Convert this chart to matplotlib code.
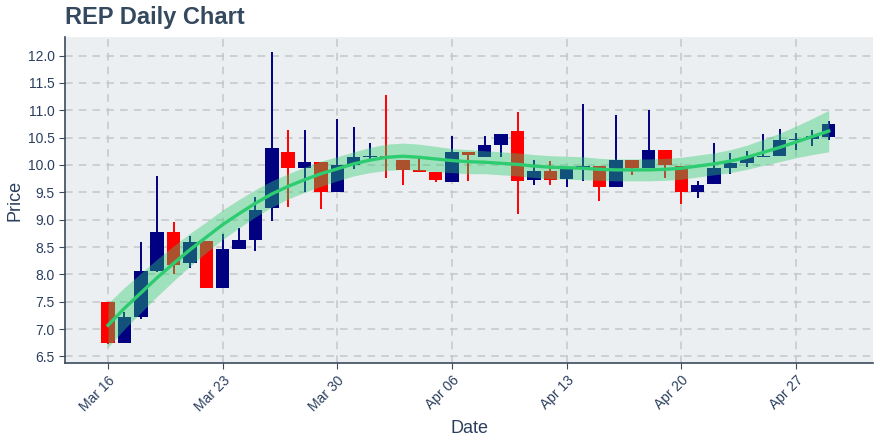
import numpy as np
import pandas as pd
import matplotlib
matplotlib.use("Agg")
import matplotlib.pyplot as plt
import matplotlib.dates as mdates

plt.rcParams["font.family"] = ["Liberation Sans", "DejaVu Sans"]

# ── Data ──────────────────────────────────────────────────────────────────────
dates = pd.date_range("2020-03-16", "2020-04-29", freq="D")

opens = [7.50, 6.74, 7.22, 8.07, 8.78, 8.20, 8.61, 7.76, 8.47, 8.63,
         9.22, 10.24, 9.95, 10.06, 9.51, 10.00, 10.14, 10.17, 10.09, 9.90,
         9.87, 9.68, 10.24, 10.15, 10.37, 10.62, 9.73, 9.89, 9.75, 9.96,
         9.98, 9.59, 10.09, 9.95, 10.28, 9.98, 9.50, 9.65, 9.95, 10.04,
         10.15, 10.17, 10.46, 10.48, 10.52]
closes = [6.74, 7.22, 8.07, 8.78, 8.17, 8.59, 7.76, 8.47, 8.63, 9.18,
          10.31, 9.95, 10.06, 9.51, 10.00, 10.14, 10.17, 10.12, 9.90, 9.87,
          9.72, 10.24, 10.19, 10.37, 10.57, 9.70, 9.89, 9.73, 9.93, 9.98,
          9.59, 10.09, 9.95, 10.28, 10.00, 9.50, 9.64, 9.94, 10.04, 10.15,
          10.17, 10.46, 10.48, 10.53, 10.75]
highs = [7.50, 7.32, 8.59, 9.80, 8.95, 8.70, 8.61, 8.74, 8.85, 9.42,
         12.07, 10.64, 10.64, 10.06, 10.84, 10.70, 10.40, 11.28, 10.09, 10.12,
         9.87, 10.53, 10.24, 10.53, 10.57, 10.97, 10.09, 10.07, 9.93, 11.12,
         9.98, 10.92, 10.09, 11.00, 10.28, 9.98, 9.70, 10.40, 10.22, 10.26,
         10.57, 10.66, 10.58, 10.64, 10.81]
lows = [6.72, 6.74, 7.18, 8.05, 8.00, 8.12, 7.75, 7.76, 8.47, 8.42,
        8.98, 9.24, 9.51, 9.20, 9.51, 9.93, 10.11, 9.77, 9.64, 9.87,
        9.68, 9.68, 9.71, 10.15, 10.14, 9.10, 9.64, 9.64, 9.60, 9.71,
        9.35, 9.59, 9.82, 9.95, 9.76, 9.29, 9.40, 9.65, 9.84, 9.96,
        10.14, 10.17, 10.28, 10.34, 10.46]

trend = [7.07, 7.38, 7.66, 7.94, 8.20, 8.45, 8.68, 8.91, 9.11, 9.30,
         9.47, 9.61, 9.73, 9.84, 9.93, 10.02, 10.09, 10.14, 10.16, 10.14,
         10.11, 10.08, 10.06, 10.05, 10.03, 10.01, 9.98, 9.96, 9.95, 9.94,
         9.92, 9.91, 9.91, 9.91, 9.92, 9.94, 9.98, 10.02, 10.07, 10.14,
         10.23, 10.32, 10.42, 10.52, 10.62]
band_half = [0.40, 0.38, 0.36, 0.34, 0.32, 0.30, 0.28, 0.27, 0.26, 0.25,
             0.24, 0.23, 0.23, 0.23, 0.22, 0.22, 0.23, 0.24, 0.24, 0.24,
             0.23, 0.22, 0.22, 0.21, 0.21, 0.21, 0.21, 0.21, 0.21, 0.21,
             0.20, 0.20, 0.20, 0.20, 0.20, 0.20, 0.20, 0.20, 0.21, 0.22,
             0.24, 0.26, 0.29, 0.33, 0.38]

yticks = np.arange(6.5, 12.01, 0.5)

# ── Style ─────────────────────────────────────────────────────────────────────
text_col = "#2a3f5f"
inc_col = "#000080"
dec_col = "#ff0000"
trend_col = "#2ecc71"

fig = plt.figure(figsize=(8.8, 4.4), dpi=100)
ax = fig.add_axes([0.074, 0.175, 0.918, 0.741])
ax.set_facecolor("#eceff1")

x = mdates.date2num(dates)
o = np.array(opens); c = np.array(closes)
h = np.array(highs); l = np.array(lows)
up = c >= o
col = np.where(up, inc_col, dec_col)

# wicks + bodies
ax.vlines(x, l, h, colors=col, lw=1.4, zorder=2)
ax.bar(x, np.abs(c - o), bottom=np.minimum(o, c), width=0.82,
       color=col, zorder=3)

# trend + band
tr = np.array(trend); hw = np.array(band_half)
ax.fill_between(x, tr - hw, tr + hw, color=trend_col, alpha=0.4, lw=0, zorder=4)
ax.plot(x, tr, color=trend_col, lw=2.4, zorder=5)

# ── Axes ──────────────────────────────────────────────────────────────────────
ax.set_xlim(x[0] - 2.62, x[0] + 46.7)
ax.set_ylim(6.38, 12.34)
ax.set_yticks(yticks)
ax.yaxis.set_major_formatter(matplotlib.ticker.FormatStrFormatter("%.1f"))
ax.xaxis.set_major_locator(mdates.WeekdayLocator(byweekday=mdates.MO))
ax.xaxis.set_major_formatter(mdates.DateFormatter("%b %d"))

ax.grid(True, color="#c4c7c9", ls=(0, (5, 4)), lw=1.1, zorder=0)
ax.set_axisbelow(True)
for s in ("top", "right"):
    ax.spines[s].set_visible(False)
for s in ("left", "bottom"):
    ax.spines[s].set_color("#3b4a5c")
    ax.spines[s].set_linewidth(1.2)

ax.tick_params(axis="both", colors="#3b4a5c", labelcolor=text_col,
               labelsize=10, length=4)
plt.setp(ax.get_xticklabels(), rotation=45, ha="right", rotation_mode="anchor")

ax.set_xlabel("Date", color=text_col, fontsize=13)
ax.set_ylabel("Price", color=text_col, fontsize=13, labelpad=3)
fig.text(0.074, 0.96, "REP Daily Chart", color="#34495e", fontsize=17,
         fontweight="bold", ha="left", va="center")

fig.savefig("out.png", dpi=100)
